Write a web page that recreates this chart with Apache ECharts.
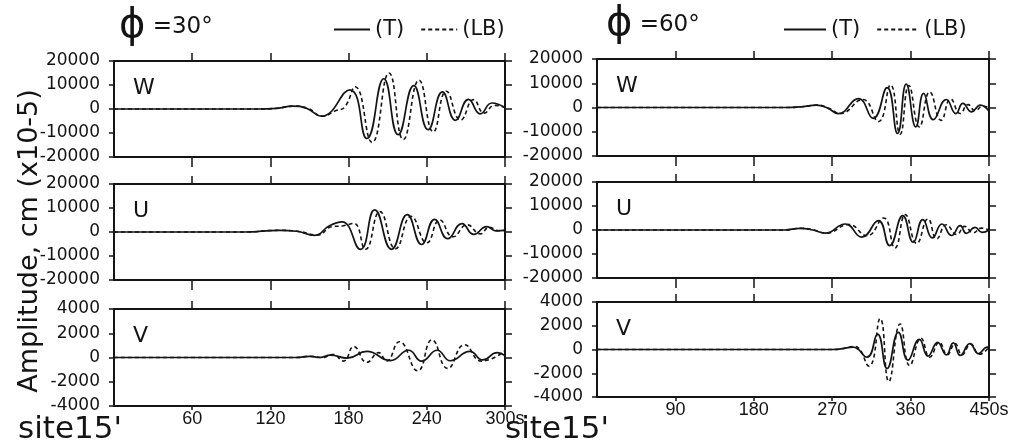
<!DOCTYPE html>
<html>
<head>
<meta charset="utf-8">
<title>Amplitude traces, site 15'</title>
<script src="https://cdn.jsdelivr.net/npm/echarts@6/dist/echarts.min.js"></script>
<style>
  html, body { margin: 0; padding: 0; background: #fff; }
  #c { width: 1019px; height: 448px; }
</style>
</head>
<body>
<div id="c"></div>
<script>
// Time ticks (s) for the two azimuths
const TICKS_30 = [60, 120, 180, 240, 300];
const TICKS_60 = [90, 180, 270, 360, 450];

// phi = 30 deg : [time s, amplitude cm x1e-5]
const W30_T  = [[0,0],[110,0],[125,300],[137,1200],[148,200],[159,-3000],[181,8000],[194,-12300],[207,12600],[218,-10700],[230,9700],[241,-8600],[252,7100],[262,-4700],[272,4000],[281,-2000],[290,2500],[300,500]];
const W30_LB = [[0,0],[110,0],[125,300],[138,1200],[149,200],[160,-3000],[170,-700],[177,800],[185,9300],[198,-13900],[211,15000],[222,-12700],[234,12000],[245,-9500],[255,7400],[266,-4600],[276,3900],[284,-1700],[292,1500],[300,700]];
const U30_T  = [[0,0],[100,0],[127,700],[140,300],[154,-1400],[165,2500],[175,4200],[189,-7200],[200,9200],[213,-7200],[225,7200],[236,-5200],[246,5300],[256,-2800],[267,3500],[276,-1000],[286,2200],[293,500],[300,700]];
const U30_LB = [[0,0],[100,0],[127,700],[141,300],[156,-1300],[167,2200],[176,2600],[184,3600],[193,-7200],[204,8500],[216,-7000],[228,6500],[240,-4500],[250,5000],[260,-2000],[271,3000],[281,-800],[288,2000],[295,500],[300,700]];
const V30_T  = [[0,0],[140,0],[150,100],[158,0],[166,200],[179,-50],[194,500],[212,-250],[226,600],[236,-300],[248,600],[258,-270],[273,500],[283,-200],[294,400],[300,150]];
const V30_LB = [[0,0],[140,0],[150,100],[160,0],[168,250],[176,-300],[184,900],[194,-400],[203,400],[209,-300],[219,1300],[233,-1100],[244,1450],[256,-900],[269,1050],[282,-300],[300,550]];

// phi = 60 deg
const W60_T  = [[0,0],[215,0],[235,300],[252,1000],[265,-300],[277,-2500],[300,3700],[317,-4500],[333,8200],[345,-10700],[355,9600],[366,-8000],[375,5800],[386,-5000],[401,3300],[412,-2500],[420,1700],[430,-1800],[440,1000],[450,-1500]];
const W60_LB = [[0,0],[215,0],[235,300],[253,1000],[266,-300],[279,-2500],[305,3300],[323,-5800],[337,9300],[348,-11000],[358,9100],[370,-8000],[382,6400],[395,-5300],[406,3500],[417,-2500],[426,1200],[434,-1300],[443,500],[450,0]];
const U60_T  = [[0,0],[215,0],[233,700],[248,0],[262,-1300],[285,2500],[304,-3000],[323,3900],[336,-6500],[351,6000],[363,-5100],[374,4300],[385,-3300],[396,2500],[407,-2300],[417,1800],[424,-1400],[434,1100],[442,-1000],[450,0]];
const U60_LB = [[0,0],[215,0],[234,700],[249,0],[263,-1300],[289,2300],[310,-2400],[329,5000],[342,-7500],[354,6400],[367,-5600],[380,4600],[390,-3700],[401,2200],[413,-1900],[422,1500],[432,-1200],[441,800],[450,0]];
const V60_T  = [[0,0],[270,0],[280,50],[294,200],[310,-650],[322,1300],[333,-1600],[346,1450],[357,-900],[370,850],[380,-550],[391,600],[401,-450],[409,550],[417,-500],[428,500],[438,-350],[448,200],[450,200]];
const V60_LB = [[0,0],[270,0],[280,50],[296,250],[312,-1400],[325,2600],[335,-2700],[348,2150],[359,-1350],[372,950],[382,-650],[393,600],[402,-450],[411,500],[419,-450],[429,450],[439,-400],[450,200]];

const INK = '#141414';

const columns = [
  { left: 114, width: 391, max: 300, ticks: TICKS_30 },
  { left: 597, width: 392, max: 450, ticks: TICKS_60 }
];

const panels = [
  { label: 'W', col: 0, top: 61,  height: 96, lim: 20000, step: 10000, T: W30_T, LB: W30_LB },
  { label: 'U', col: 0, top: 184, height: 96, lim: 20000, step: 10000, T: U30_T, LB: U30_LB },
  { label: 'V', col: 0, top: 309, height: 97, lim: 4000,  step: 2000,  T: V30_T, LB: V30_LB },
  { label: 'W', col: 1, top: 59,  height: 97, lim: 20000, step: 10000, T: W60_T, LB: W60_LB },
  { label: 'U', col: 1, top: 182, height: 96, lim: 20000, step: 10000, T: U60_T, LB: U60_LB },
  { label: 'V', col: 1, top: 302, height: 95, lim: 4000,  step: 2000,  T: V60_T, LB: V60_LB }
];

const grid = [], xAxis = [], yAxis = [], series = [], graphic = [];
const frame = { color: INK, width: 2 };

panels.forEach((p, i) => {
  const c = columns[p.col];
  const bottomRow = p.label === 'V';
  grid.push({ left: c.left, width: c.width, top: p.top, height: p.height, containLabel: false });

  // bottom time axis
  xAxis.push({
    gridIndex: i, type: 'value', min: 0, max: c.max, position: 'bottom',
    axisLine: { onZero: false, lineStyle: frame },
    axisTick: { show: true, customValues: c.ticks, length: bottomRow ? 4 : 10, lineStyle: { color: INK, width: 1.5 } },
    axisLabel: {
      show: bottomRow, customValues: c.ticks, margin: 4,
      fontFamily: 'Liberation Sans', fontSize: 18, color: INK,
      formatter: v => (v === c.max ? v + 's' : String(v))
    },
    splitLine: { show: false }
  });
  // top frame edge with ticks
  xAxis.push({
    gridIndex: i, type: 'value', min: 0, max: c.max, position: 'top',
    axisLine: { onZero: false, lineStyle: frame },
    axisTick: { show: true, customValues: c.ticks, length: 8, lineStyle: { color: INK, width: 1.5 } },
    axisLabel: { show: false },
    splitLine: { show: false }
  });
  // amplitude axis
  yAxis.push({
    gridIndex: i, type: 'value', min: -p.lim, max: p.lim, interval: p.step, position: 'left',
    axisLine: { onZero: false, lineStyle: frame },
    axisTick: { show: true, length: 5, lineStyle: { color: INK, width: 1.5 } },
    axisLabel: { margin: 14, fontFamily: 'DejaVu Sans', fontSize: 17, color: INK, formatter: v => String(v) },
    splitLine: { show: false }
  });
  // right frame edge with ticks
  yAxis.push({
    gridIndex: i, type: 'value', min: -p.lim, max: p.lim, interval: p.step, position: 'right',
    axisLine: { onZero: false, lineStyle: frame },
    axisTick: { show: true, length: 7, lineStyle: { color: INK, width: 1.5 } },
    axisLabel: { show: false },
    splitLine: { show: false }
  });

  series.push({
    name: '(T)', type: 'line', xAxisIndex: 2 * i, yAxisIndex: 2 * i,
    data: p.T, symbol: 'none', smooth: 0.5,
    lineStyle: { color: INK, width: 1.7 }, itemStyle: { color: INK }, z: 3
  });
  series.push({
    name: '(LB)', type: 'line', xAxisIndex: 2 * i, yAxisIndex: 2 * i,
    data: p.LB, symbol: 'none', smooth: 0.5,
    lineStyle: { color: INK, width: 1.6, type: [4, 3] }, itemStyle: { color: INK }, z: 2
  });

  // component letter inside the panel
  graphic.push({
    type: 'text', left: c.left + 19, top: p.top + 16,
    style: { text: p.label, font: '22px "DejaVu Sans"', fill: INK }
  });
});

// vertical amplitude title
graphic.push({
  type: 'text', x: 30, y: 241, rotation: Math.PI / 2,
  style: { text: 'Amplitude, cm (x10-5)', font: '27px "DejaVu Sans"', fill: INK, align: 'center', verticalAlign: 'middle' }
});
// station label under each column
graphic.push({
  type: 'text', left: 18, top: 414,
  style: { text: "site15'", font: '31px "DejaVu Sans"', fill: INK }
});
graphic.push({
  type: 'text', left: 505, top: 414,
  style: { text: "site15'", font: '31px "DejaVu Sans"', fill: INK }
});

const phiRich = {
  p: { fontSize: 40, fontFamily: 'DejaVu Sans', fontWeight: 'normal', color: INK },
  r: { fontSize: 23, fontFamily: 'DejaVu Sans', fontWeight: 'normal', color: INK }
};

const legendBase = {
  data: ['(T)', '(LB)'], top: 14, itemHeight: 14, itemGap: 16,
  itemStyle: { opacity: 0 },
  textStyle: { fontFamily: 'DejaVu Sans', fontSize: 21, color: INK },
  selectedMode: false
};

const option = {
  backgroundColor: '#ffffff',
  animation: false,
  title: [
    { text: '{p|ϕ}{r| =30°}', left: 114, top: 2, textStyle: { fontWeight: 'normal', rich: phiRich } },
    { text: '{p|ϕ}{r| =60°}', left: 601, top: 0, textStyle: { fontWeight: 'normal', rich: phiRich } }
  ],
  legend: [
    Object.assign({}, legendBase, { left: 328, itemWidth: 36 }),
    Object.assign({}, legendBase, { left: 778, itemWidth: 42 })
  ],
  grid, xAxis, yAxis, series, graphic
};

const chart = echarts.init(document.getElementById('c'));
chart.setOption(option);
</script>
</body>
</html>
